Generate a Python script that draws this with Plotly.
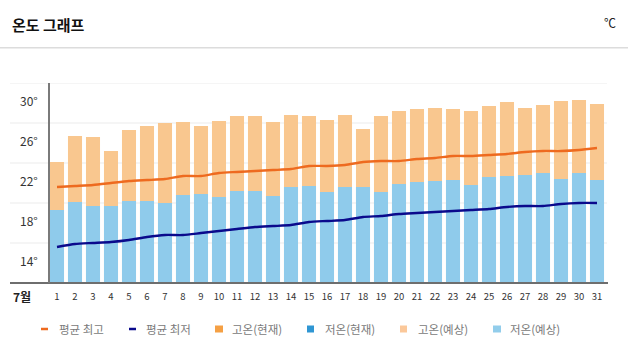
import plotly.graph_objects as go

# ---- data ----
days = list(range(1, 32))
day_labels = [str(d) for d in days]
high_forecast = [24.1, 26.7, 26.6, 25.2, 27.3, 27.7, 28.0, 28.1, 27.7, 28.2,
                 28.7, 28.7, 28.1, 28.8, 28.7, 28.3, 28.8, 27.4, 28.7, 29.2,
                 29.4, 29.5, 29.4, 29.2, 29.7, 30.1, 29.5, 29.8, 30.2, 30.3, 29.9]
low_forecast = [19.3, 20.1, 19.7, 19.7, 20.2, 20.2, 20.0, 20.8, 20.9, 20.6,
                21.2, 21.2, 20.7, 21.6, 21.7, 21.1, 21.6, 21.6, 21.1, 21.9,
                22.1, 22.2, 22.3, 21.8, 22.6, 22.7, 22.8, 23.0, 22.4, 23.0, 22.3]
avg_high = [21.6, 21.7, 21.8, 22.0, 22.2, 22.3, 22.4, 22.7, 22.7, 23.0,
            23.1, 23.2, 23.3, 23.4, 23.7, 23.7, 23.8, 24.1, 24.2, 24.2,
            24.4, 24.5, 24.7, 24.7, 24.8, 24.9, 25.1, 25.2, 25.2, 25.3, 25.5]
avg_low = [15.6, 15.9, 16.0, 16.1, 16.3, 16.6, 16.8, 16.8, 17.0, 17.2,
           17.4, 17.6, 17.7, 17.8, 18.1, 18.2, 18.3, 18.6, 18.7, 18.9,
           19.0, 19.1, 19.2, 19.3, 19.4, 19.6, 19.7, 19.7, 19.9, 20.0, 20.0]
y_label_vals = [14, 18, 22, 26, 30]
y_label_text = ["14°", "18°", "22°", "26°", "30°"]
grid_vals = [16, 20, 24, 28, 32]
legend_names = ["평균 최고", "평균 최저", "고온(현재)", "저온(현재)", "고온(예상)", "저온(예상)"]
title_text = "온도 그래프"
unit_text = "℃"
month_text = "7월"

# ---- style ----
W, H = 628, 359
L, R, T, B = 48, 22, 83, 76
PW, PH = W - L - R, H - T - B
FONT = "Noto Sans CJK KR"
C_HIGH_BAR = "#F9C78F"
C_LOW_BAR = "#8FCBEB"
C_AVG_HIGH = "#EE6A1F"
C_AVG_LOW = "#0A0A8C"
C_HIGH_NOW = "#F5A044"
C_LOW_NOW = "#2F96D3"
legend_colors = [C_AVG_HIGH, C_AVG_LOW, C_HIGH_NOW, C_LOW_NOW, "#FBC89A", "#92CDEB"]


def px(xp):
    return (xp - L) / PW


def py(yp):
    return (T + PH - yp) / PH


fig = go.Figure()
fig.add_trace(go.Bar(x=days, y=high_forecast, marker_color=C_HIGH_BAR,
                     marker_line_width=0, width=0.78, name=legend_names[4],
                     showlegend=False))
fig.add_trace(go.Bar(x=days, y=low_forecast, marker_color=C_LOW_BAR,
                     marker_line_width=0, width=0.78, name=legend_names[5],
                     showlegend=False))
fig.add_trace(go.Scatter(x=days, y=avg_high, mode="lines",
                         line=dict(color=C_AVG_HIGH, width=2.3, shape="spline", smoothing=0.6),
                         name=legend_names[0], showlegend=False))
fig.add_trace(go.Scatter(x=days, y=avg_low, mode="lines",
                         line=dict(color=C_AVG_LOW, width=2.3, shape="spline", smoothing=0.6),
                         name=legend_names[1], showlegend=False))

shapes = []
for g in grid_vals:
    shapes.append(dict(type="line", xref="paper", yref="y", x0=px(10), x1=px(607),
                       y0=g, y1=g, line=dict(color="#EBEBEB", width=1), layer="below"))
shapes.append(dict(type="line", xref="paper", yref="paper", x0=px(10), x1=px(608),
                   y0=0, y1=0, line=dict(color="#6E6E6E", width=2)))
shapes.append(dict(type="line", xref="paper", yref="paper", x0=px(49), x1=px(49),
                   y0=0, y1=1, line=dict(color="#7A7A7A", width=2)))
shapes.append(dict(type="line", xref="paper", yref="paper", x0=px(0), x1=px(628),
                   y0=py(47.7), y1=py(47.7), line=dict(color="#DCDCDC", width=1.5)))

annotations = []
for v, t in zip(y_label_vals, y_label_text):
    annotations.append(dict(x=px(40), y=v, xref="paper", yref="y", text=t,
                            showarrow=False, xanchor="right", yanchor="middle", yshift=3,
                            font=dict(family=FONT, size=12, color="#333333")))
annotations.append(dict(x=px(10), y=py(24), xref="paper", yref="paper",
                        text="<b>" + title_text + "</b>",
                        showarrow=False, xanchor="left", yanchor="middle",
                        font=dict(family=FONT, size=15, color="#111111")))
annotations.append(dict(x=px(618), y=py(22), xref="paper", yref="paper", text=unit_text,
                        showarrow=False, xanchor="right", yanchor="middle",
                        font=dict(family=FONT, size=12, color="#222222")))
annotations.append(dict(x=px(22), y=py(296), xref="paper", yref="paper",
                        text="<b>" + month_text + "</b>", showarrow=False,
                        xanchor="center", yanchor="middle",
                        font=dict(family=FONT, size=12, color="#222222")))

leg_y = 329
marker_x = [(41, 48), (129, 136), (215, 223), (307, 314), (400, 407), (493, 501)]
text_x = [57, 144, 230, 323, 416, 508]
for i, name in enumerate(legend_names):
    x0, x1 = marker_x[i]
    if i < 2:
        shapes.append(dict(type="line", xref="paper", yref="paper", x0=px(x0), x1=px(x1),
                           y0=py(leg_y), y1=py(leg_y),
                           line=dict(color=legend_colors[i], width=2.5)))
    else:
        shapes.append(dict(type="rect", xref="paper", yref="paper", x0=px(x0), x1=px(x1),
                           y0=py(leg_y - 3.5), y1=py(leg_y + 3.5),
                           line=dict(width=0), fillcolor=legend_colors[i]))
    annotations.append(dict(x=px(text_x[i]), y=py(leg_y), xref="paper", yref="paper",
                            text=name, showarrow=False, xanchor="left", yanchor="middle",
                            font=dict(family=FONT, size=11.5, color="#7A7A7A")))

fig.update_layout(
    width=W, height=H,
    margin=dict(l=L, r=R, t=T, b=B, pad=0),
    paper_bgcolor="white", plot_bgcolor="white",
    barmode="overlay",
    showlegend=False,
    font=dict(family=FONT),
    shapes=shapes,
    annotations=annotations,
    xaxis=dict(range=[0.5, 31.5], tickvals=days, ticktext=day_labels,
               showgrid=False, zeroline=False, showline=False, ticks="",
               ticklabelstandoff=6,
               tickfont=dict(family=FONT, size=9.5, color="#333333")),
    yaxis=dict(range=[12, 32], showgrid=False, zeroline=False, showline=False,
               showticklabels=False, ticks=""),
)

fig.write_html("out.html", config={"displayModeBar": False},
               post_script="document.body.style.margin='0';document.body.style.overflow='hidden';")
